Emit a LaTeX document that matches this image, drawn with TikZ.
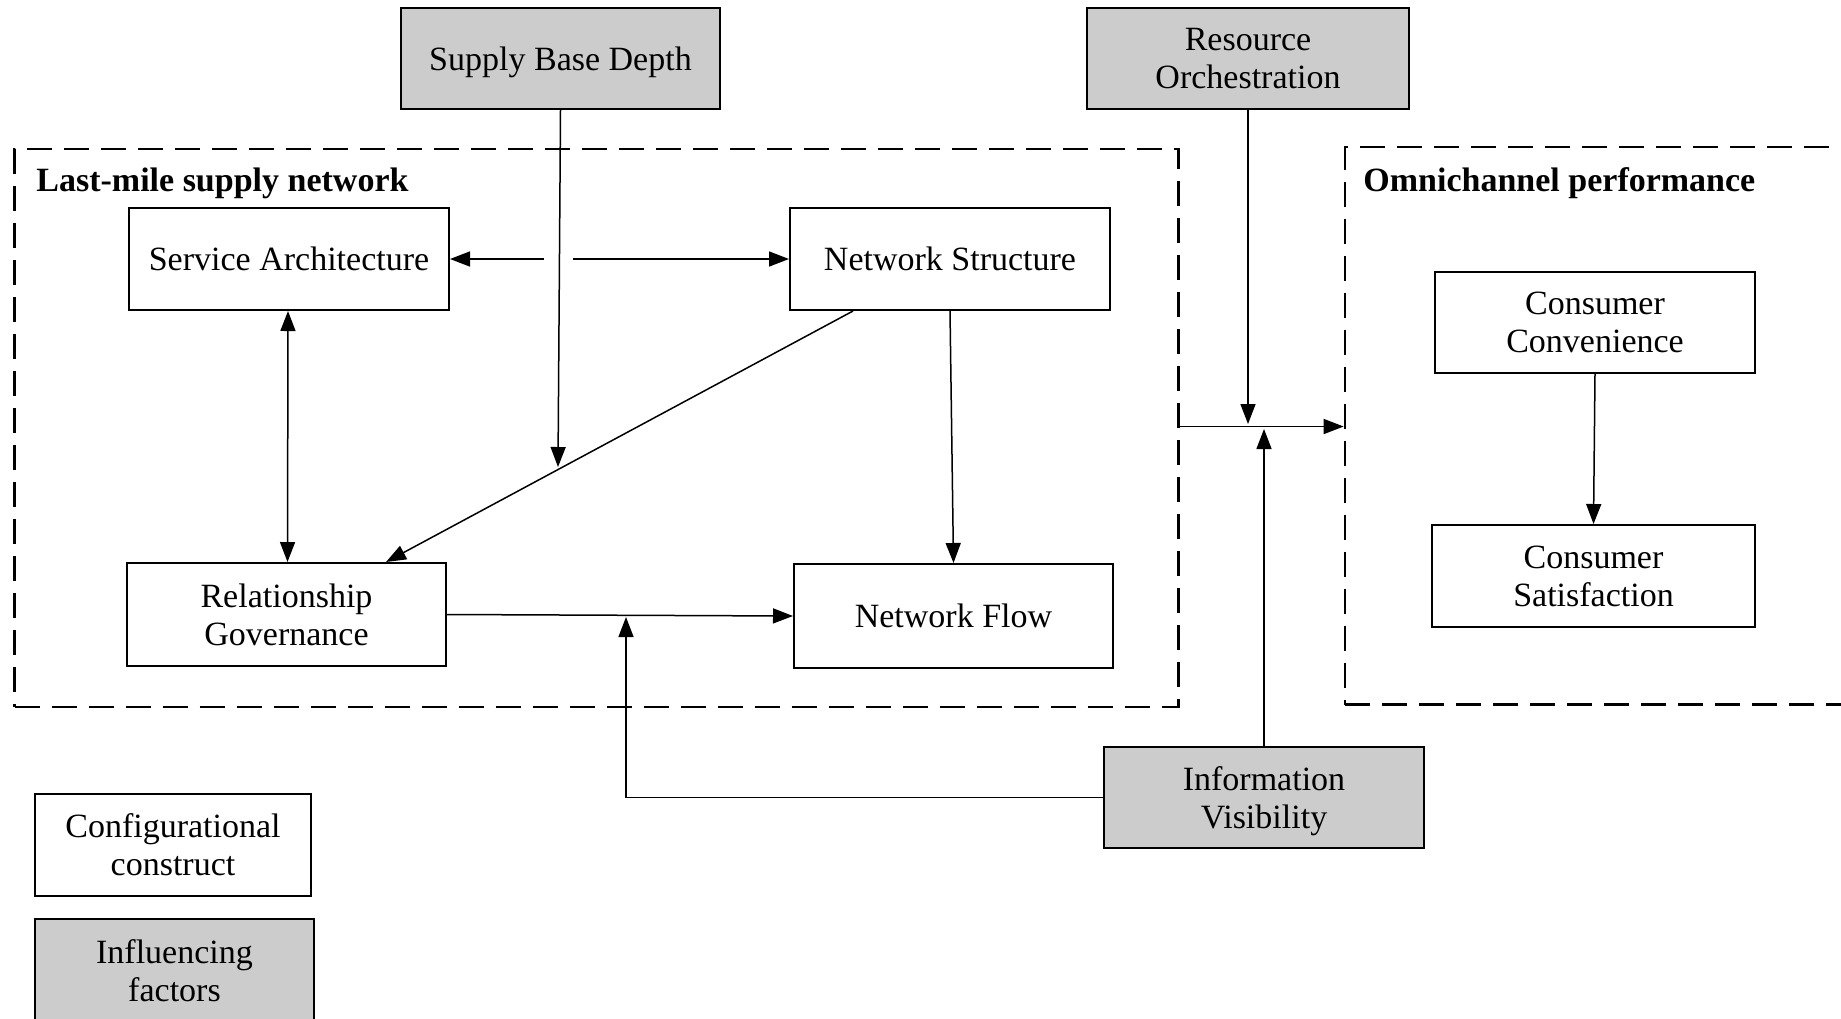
\documentclass[tikz,border=0pt]{standalone}
\usepackage{fontspec}
\setmainfont{Liberation Serif}
\usetikzlibrary{arrows.meta,calc}
\definecolor{boxgray}{RGB}{204,204,204}
\begin{document}
\begin{tikzpicture}[x=0.5pt,y=-0.5pt,
  box/.style={draw, line width=1pt, rectangle, inner sep=0pt, align=center, text depth=0pt, font=\fontsize{17}{19}\selectfont},
  cbox/.style={box, fill=white},
  gbox/.style={box, fill=boxgray},
  group/.style={draw, line width=1.35pt, dash pattern=on 12.5pt off 6pt, inner sep=0pt, rectangle},
  title/.style={anchor=base west, inner sep=0pt, font=\bfseries\fontsize{17}{19}\selectfont},
  arr/.style={line width=0.75pt, -{Triangle[length=10pt,width=7.5pt]}},
  arrtwo/.style={line width=0.75pt, {Triangle[length=10pt,width=7.5pt]}-{Triangle[length=10pt,width=7.5pt]}}
]
\path[use as bounding box] (0,0) rectangle (1841,1018);
\clip (0,0) rectangle (1841,1018);

% groups
\node[group, minimum width=582pt, minimum height=279pt] (LM) at (596.5,428) {};
\node[group, minimum width=277.5pt, minimum height=278.75pt] (OC) at (1622.5,425.75) {};
\node[title] (T1) at (36,191) {Last-mile supply network};
\node[title] (T2) at (1363,191) {Omnichannel performance};

% boxes
\node[gbox, minimum width=159.5pt, minimum height=50.5pt] (SBD) at (560.5,58.5) {Supply Base Depth};
\node[gbox, minimum width=161pt, minimum height=50.5pt] (RO) at (1248,58.5) {Resource\\Orchestration};
\node[cbox, minimum width=160pt, minimum height=51pt] (SA) at (289,259) {Service Architecture};
\node[cbox, minimum width=160pt, minimum height=51pt] (NS) at (950,259) {Network Structure};
\node[cbox, minimum width=159.5pt, minimum height=51.5pt] (RG) at (286.5,614.5) {Relationship\\Governance};
\node[cbox, minimum width=159.5pt, minimum height=52pt] (NF) at (953.5,616) {Network Flow};
\node[cbox, minimum width=160pt, minimum height=50.5pt] (CC) at (1595,322.5) {Consumer\\Convenience};
\node[cbox, minimum width=161.5pt, minimum height=51pt] (CS) at (1593.5,576) {Consumer\\Satisfaction};
\node[gbox, minimum width=160pt, minimum height=50.5pt] (IV) at (1264,797.5) {Information\\Visibility};
\node[cbox, minimum width=138pt, minimum height=51pt] (CFG) at (173,845) {Configurational\\construct};
\node[gbox, minimum width=139.5pt, minimum height=52pt] (INF) at (174.5,971) {Influencing\\factors};

% free ends
\coordinate (sbdTip) at (558,467);
\coordinate (gapL) at (544,259);
\coordinate (gapR) at (573,259);
\coordinate (ivTipA) at (626,617);
\coordinate (ivTipB) at (1264,429);
\coordinate (roTip) at (1248,424);
\coordinate (jY) at (0,426.5);

% connectors
\draw[arr] (SBD.south) -- (sbdTip);
\draw[arr] (gapL) -- (SA.east);
\draw[arr] (gapR) -- (NS.west);
\draw[arrtwo] ([xshift=-0.5pt]SA.south) -- ([xshift=0.5pt]RG.north);
\draw[arr] ($(NS.south)+(-97,0)$) -- ($(RG.north)+(99.5,0)$);
\draw[arr] (NS.south) -- (NF.north);
\draw[arr] (RG.east) -- (NF.west);
\draw[arr] (IV.west) -| (ivTipA);
\draw[arr] (IV.north) -- (ivTipB);
\draw[arr] (LM.east |- jY) -- (OC.west |- jY);
\draw[arr] (RO.south) -- (roTip);
\draw[arr] (CC.south) -- (CS.north);
\end{tikzpicture}
\end{document}
